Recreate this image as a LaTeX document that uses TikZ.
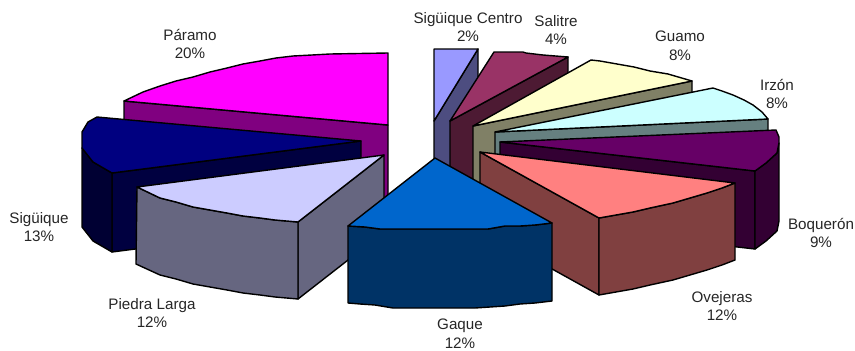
\documentclass[tikz,border=0pt]{standalone}
\usepackage{fontspec}
\setmainfont{Liberation Sans}
\definecolor{paramoT}{RGB}{255,0,255}\definecolor{paramoS}{RGB}{128,0,128}
\definecolor{centroT}{RGB}{153,153,255}\definecolor{centroS}{RGB}{77,77,128}
\definecolor{salitreT}{RGB}{153,51,102}\definecolor{salitreS}{RGB}{77,26,51}
\definecolor{guamoT}{RGB}{255,255,204}\definecolor{guamoS}{RGB}{128,128,102}
\definecolor{irzonT}{RGB}{204,255,255}\definecolor{irzonS}{RGB}{102,128,128}
\definecolor{boqT}{RGB}{102,0,102}\definecolor{boqS}{RGB}{51,0,51}
\definecolor{oveT}{RGB}{255,128,128}\definecolor{oveS}{RGB}{128,64,64}
\definecolor{sigT}{RGB}{0,0,128}\definecolor{sigS}{RGB}{0,0,64}\definecolor{sigA}{RGB}{0,0,51}
\definecolor{pieT}{RGB}{204,204,255}\definecolor{pieS}{RGB}{102,102,128}
\definecolor{gaqT}{RGB}{0,102,204}\definecolor{gaqS}{RGB}{0,51,102}
\tikzset{
  wedge/.style={draw=black,line width=1.4pt,line join=round},
  lbl/.style={align=center,inner sep=0pt,text=black!85,font=\fontsize{15.2}{18.6}\selectfont}
}
\begin{document}
\begin{tikzpicture}[x=1pt,y=-1pt]
\useasboundingbox (0,0) rectangle (855,351);
% Paramo
\draw[wedge,fill=paramoS] (124,101)--(388,125)--(388,203)--(124,179)--cycle;
\draw[wedge,fill=paramoT] (388,125)--(388,53)--(330,54)--(312,55)--(293,56)--(276,58)--(260,61)--(243,64)--(227,68)--(210,72)--(193,77)--(176,81)--(160,86)--(143,92)--(124,101)--cycle;
% Siguique Centro
\draw[wedge,fill=centroS] (434,121)--(478,49)--(478,127)--(434,199)--cycle;
\draw[wedge,fill=centroT] (434,121)--(434,49)--(478,49)--cycle;
% Salitre
\draw[wedge,fill=salitreS] (450,121)--(568,57)--(568,135)--(450,199)--cycle;
\draw[wedge,fill=salitreT] (450,121)--(494,52)--(523,52)--(526,53)--(543,55)--(568,57)--cycle;
% Guamo
\draw[wedge,fill=guamoS] (473,126)--(692,81)--(692,159)--(473,204)--cycle;
\draw[wedge,fill=guamoT] (473,126)--(591,60)--(600,61)--(617,64)--(634,67)--(650,71)--(668,74)--(692,81)--cycle;
% Irzon
\draw[wedge,fill=irzonS] (495,132)--(768,119)--(768,197)--(495,210)--cycle;
\draw[wedge,fill=irzonT] (495,132)--(713,88)--(722,91)--(733,95)--(744,100)--(753,105)--(762,112)--(768,119)--cycle;
% Boqueron
\draw[wedge,fill=boqS] (500,142)--(755,171)--(755,249)--(500,220)--cycle;
\draw[wedge,fill=boqS] (755,171)--(766,163)--(777,153)--(779,143)--(779,221)--(777,231)--(766,241)--(755,249)--cycle;
\draw[wedge,fill=boqT] (500,142)--(776,130)--(779,137)--(779,143)--(777,153)--(766,163)--(755,171)--cycle;
% Ovejeras
\draw[wedge,fill=oveS] (480,152)--(599,218)--(599,295)--(480,229)--cycle;
\draw[wedge,fill=oveS] (599,218)--(616,215)--(633,212)--(650,208)--(673,203)--(690,198)--(707,193)--(722,188)--(735,183)--(735,260)--(722,265)--(707,270)--(690,275)--(673,280)--(650,285)--(633,289)--(616,292)--(599,295)--cycle;
\draw[wedge,fill=oveT] (480,152)--(735,183)--(722,188)--(707,193)--(690,198)--(673,203)--(650,208)--(633,212)--(616,215)--(599,218)--cycle;
% Siguique
\draw[wedge,fill=sigS] (361,141)--(112,173)--(112,252)--(361,220)--cycle;
\draw[wedge,fill=sigA] (82,148)--(93,162)--(112,173)--(112,252)--(93,241)--(82,227)--cycle;
\draw[wedge,fill=sigT] (361,141)--(97,117)--(88,122)--(82,132)--(82,148)--(93,162)--(112,173)--cycle;
% Piedra Larga
\draw[wedge,fill=pieS] (298,222)--(384,155)--(384,232)--(298,299)--cycle;
\draw[wedge,fill=pieS] (137,187)--(160,198)--(176,202)--(193,207)--(210,210)--(227,213)--(243,216)--(260,218)--(275,220)--(298,222)--(298,299)--(275,297)--(260,295)--(243,293)--(227,290)--(210,287)--(193,284)--(176,279)--(160,275)--(136,264)--cycle;
\draw[wedge,fill=pieT] (384,155)--(137,187)--(160,198)--(176,202)--(193,207)--(210,210)--(227,213)--(243,216)--(260,218)--(275,220)--(298,222)--cycle;
% Gaque
\draw[wedge,fill=gaqS] (348,226)--(365,227)--(380,229)--(488,229)--(505,226)--(520,226)--(535,225)--(552,223)--(552,301)--(535,303)--(520,304)--(505,306)--(475,308)--(393,308)--(375,305)--(360,304)--(348,303)--cycle;
\draw[wedge,fill=gaqT] (435,158)--(348,226)--(365,227)--(380,229)--(488,229)--(505,226)--(520,226)--(535,225)--(552,223)--cycle;
% Labels
\node[lbl] (paramo) at (190,44) {Páramo\\20\%};
\node[lbl] (centro) at (468,27) {Sigüique Centro\\2\%};
\node[lbl] (salitre) at (556,30) {Salitre\\4\%};
\node[lbl] (guamo) at (680,46) {Guamo\\8\%};
\node[lbl] (irzon) at (777,94) {Irzón\\8\%};
\node[lbl] (boqueron) at (821,233) {Boquerón\\9\%};
\node[lbl] (ovejeras) at (722,306) {Ovejeras\\12\%};
\node[lbl] (gaque) at (460,334) {Gaque\\12\%};
\node[lbl] (piedra) at (152,313) {Piedra Larga\\12\%};
\node[lbl] (siguique) at (39,227) {Sigüique\\13\%};
\end{tikzpicture}
\end{document}
